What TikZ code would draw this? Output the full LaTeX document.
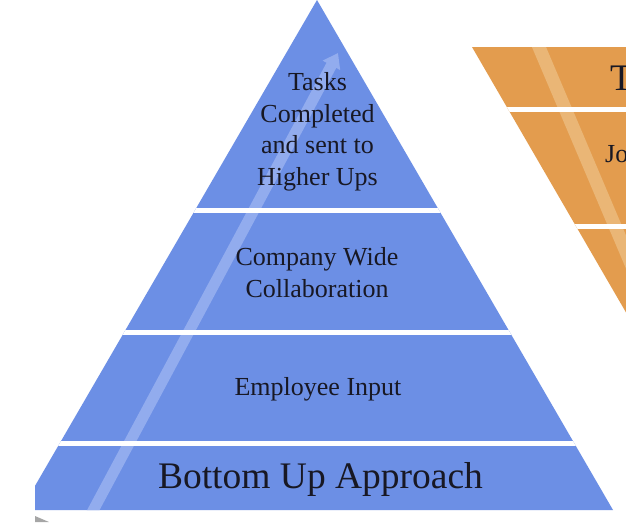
\documentclass[tikz,border=0pt]{standalone}
\usepackage{fontspec}
\setmainfont{Liberation Serif}
\usetikzlibrary{arrows.meta}
\definecolor{pblue}{RGB}{108,143,229}
\definecolor{pbluestripe}{RGB}{146,172,238}
\definecolor{porange}{RGB}{227,156,78}
\definecolor{porangestripe}{RGB}{234,182,118}
\definecolor{ptext}{RGB}{24,24,36}
\tikzset{
  gapline/.style={white, line width=5pt},
  lbl/.style={inner sep=0pt, text=ptext, font=\fontsize{26}{31.5}\selectfont, align=center},
  biglbl/.style={inner sep=0pt, text=ptext, font=\fontsize{37.5}{44}\selectfont},
}
\begin{document}
\begin{tikzpicture}[x=1pt,y=-1pt]
\useasboundingbox (0,0) rectangle (626,522);
\fill[white] (0,0) rectangle (626,522);
% ---------- blue pyramid ----------
\begin{scope}
  \clip (35,0) rectangle (626,510);
  \fill[pblue] (317,0) -- (613,510) -- (21,510) -- cycle;
  \clip (317,0) -- (613,510) -- (21,510) -- cycle;
  \coordinate (sb) at (88,520);
  \coordinate (st) at (338,53);
  \draw[pbluestripe, line width=11pt, -{Triangle[length=14pt,width=19pt]}] (sb) -- (st);
  \draw[gapline] (0,210.5) -- (626,210.5);
  \draw[gapline] (0,332) -- (626,332);
  \draw[gapline] (0,443.5) -- (626,443.5);
\end{scope}
% ---------- orange inverted pyramid ----------
\begin{scope}
  \clip (472,47) -- (700,47) -- (700,440) -- cycle;
  \fill[porange] (472,47) rectangle (700,440);
  \draw[porangestripe, line width=13pt] (536,40) -- (640,285);
  \draw[gapline] (440,109.5) -- (700,109.5);
  \draw[gapline] (440,226) -- (700,226);
\end{scope}
% small grey mark
\fill[gray!70] (35,516) -- (49,522) -- (35,522) -- cycle;
% ---------- labels ----------
\node[lbl, anchor=north] (tasks) at (317.5,72.5) {Tasks\\Completed\\and sent to\\Higher Ups};
\node[lbl, anchor=north] (collab) at (317,247.5) {Company Wide\\Collaboration};
\node[lbl, anchor=base] (input) at (318,395) {Employee Input};
\node[biglbl, anchor=base] (bottom) at (320.5,488) {Bottom Up Approach};
\node[biglbl, anchor=base west] (otop) at (610,90) {T};
\node[lbl, anchor=base west] (ojo) at (605,162) {Jo};
\end{tikzpicture}
\end{document}
